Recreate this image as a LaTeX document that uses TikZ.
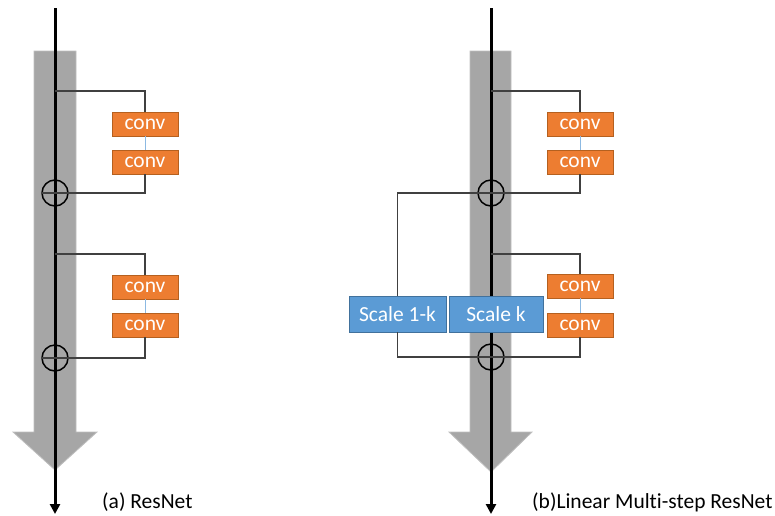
\documentclass[tikz,border=0pt]{standalone}
\usepackage{fontspec}
\setmainfont{Carlito}[Ligatures=NoCommon]
\usetikzlibrary{arrows.meta}

\definecolor{convorange}{HTML}{ED7D31}
\definecolor{convedge}{HTML}{B5601F}
\definecolor{scaleblue}{HTML}{5B9BD5}
\definecolor{scaleedge}{HTML}{41719C}
\definecolor{flowgray}{HTML}{A6A6A6}
\definecolor{flowedge}{HTML}{BFBFBF}
\definecolor{wire}{HTML}{404040}

\begin{document}
\begin{tikzpicture}[
        x=1pt, y=-1pt,
        every node/.style = {
            font=\fontsize{21.5}{25}\selectfont,
            inner sep=0pt
        },
        convbox/.style = {
            fill=convorange, draw=convedge, line width=0.8pt,
            text=white, minimum width=66pt, minimum height=24pt
        },
        scalebox/.style = {
            fill=scaleblue, draw=scaleedge, line width=0.8pt,
            text=white, minimum height=36pt
        },
        addnode/.style = {
            circle, draw=black, line width=1.5pt, minimum size=26pt
        },
        flow/.style = {
            fill=flowgray, draw=flowedge, line width=0.8pt
        },
        mainline/.style = {
            draw=black, line width=3pt,
            -{Triangle[width=10pt,length=10pt]}
        },
        wireline/.style = {draw=wire, line width=1.3pt},
        gapline/.style = {draw=scaleblue!70, line width=0.8pt}
    ]
    \useasboundingbox (0,0) rectangle (775,515);

    % wide gray arrows
    \path[flow] (34,51) -- (76,51) -- (76,432) -- (97,432) -- (55,470)
        -- (13,432) -- (34,432) -- cycle;
    \path[flow] (470,51) -- (511,51) -- (511,432) -- (532,432) -- (491,472)
        -- (449,432) -- (470,432) -- cycle;

    % (a) ResNet
    \coordinate (topA) at (55,8);
    \coordinate (endA) at (55,514);
    \coordinate (brA1) at (55,91);
    \coordinate (brA2) at (55,254);
    \draw[mainline] (topA) -- (endA);

    \node[convbox] (convA1) at (145,124) {conv};
    \node[convbox] (convA2) at (145,162) {conv};
    \node[convbox] (convA3) at (145,287) {conv};
    \node[convbox] (convA4) at (145,325) {conv};
    \node[addnode] (addA1) at (55,193) {};
    \node[addnode] (addA2) at (55,358) {};

    \draw[wireline] (brA1) -| (convA1.north);
    \draw[gapline] (convA1) -- (convA2);
    \draw[wireline] (convA2.south) |- (addA1.west);
    \draw[wireline] (brA2) -| (convA3.north);
    \draw[gapline] (convA3) -- (convA4);
    \draw[wireline] (convA4.south) |- (addA2.west);

    \node[anchor=west] (capA) at (102,502) {(a) ResNet};

    % (b) Linear Multi-step ResNet
    \coordinate (topB) at (491,8);
    \coordinate (endB) at (491,514);
    \coordinate (brB1) at (491,91);
    \coordinate (brB2) at (491,254);
    \draw[mainline] (topB) -- (endB);

    \node[convbox] (convB1) at (580,124) {conv};
    \node[convbox] (convB2) at (580,162) {conv};
    \node[convbox] (convB3) at (580,286) {conv};
    \node[convbox] (convB4) at (580,325) {conv};
    \node[addnode] (addB1) at (491,193) {};
    \node[addnode] (addB2) at (491,357) {};
    \node[scalebox, minimum width=97pt] (scaleOne) at (397.5,314) {Scale 1-k};
    \node[scalebox, minimum width=94pt] (scaleK) at (496,314) {Scale k};

    \draw[wireline] (brB1) -| (convB1.north);
    \draw[gapline] (convB1) -- (convB2);
    \draw[wireline] (convB2.south) |- (addB1.center) -| (scaleOne.north);
    \draw[wireline] (brB2) -| (convB3.north);
    \draw[gapline] (convB3) -- (convB4);
    \draw[wireline] (scaleOne.south) |- (addB2.center) -| (convB4.south);

    \node[anchor=west] (capB) at (532,502) {(b)Linear Multi-step ResNet};
\end{tikzpicture}
\end{document}
